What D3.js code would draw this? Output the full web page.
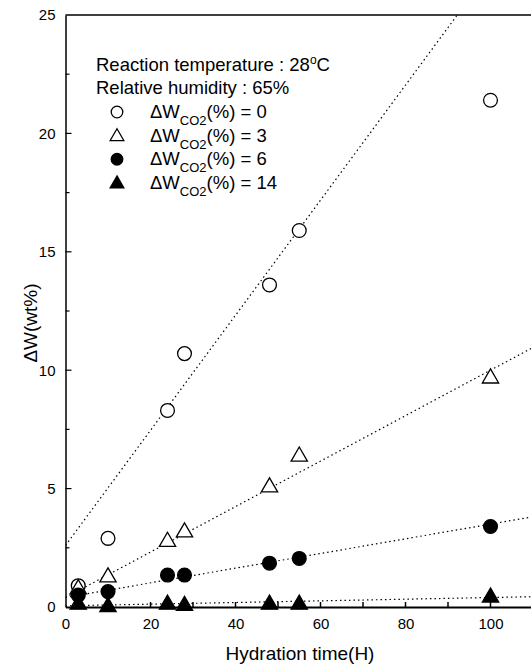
<!DOCTYPE html>
<html>
<head>
<meta charset="utf-8">
<script src="https://cdn.jsdelivr.net/npm/d3@7"></script>
<style>
  body { margin: 0; background: #fff; }
  svg { font-family: "Liberation Sans", Arial, sans-serif; }
</style>
</head>
<body>
<svg width="531" height="666"></svg>
<script>
// Hydration time (H) of each measurement
const hours = [3, 10, 24, 28, 48, 55, 100];

// Weight gain ΔW (wt%) per CO2 pre-absorption level
const co2Levels = ["0", "3", "6", "14"];
const gain0 = [0.9, 2.9, 8.3, 10.7, 13.6, 15.9, 21.4];
const gain3 = [0.8, 1.3, 2.8, 3.2, 5.1, 6.4, 9.7];
const gain6 = [0.5, 0.65, 1.35, 1.35, 1.85, 2.05, 3.4];
const gain14 = [0.15, 0.05, 0.15, 0.1, 0.15, 0.15, 0.45];

// fitted lines: intercept and slope
const fitIntercept = [2.6, 0.4, 0.4, 0.05];
const fitSlope = [0.243, 0.096, 0.031, 0.0035];

const xTicks = [0, 20, 40, 60, 80, 100];
const yTicks = [0, 5, 10, 15, 20, 25];

const series = [
  { level: co2Levels[0], values: gain0, shape: "circle", filled: false },
  { level: co2Levels[1], values: gain3, shape: "triangle", filled: false },
  { level: co2Levels[2], values: gain6, shape: "circle", filled: true },
  { level: co2Levels[3], values: gain14, shape: "triangle", filled: true }
];

const svg = d3.select("svg");

const plotLeft = 65.5, plotTop = 15, plotBottom = 607;
const x = d3.scaleLinear().domain([0, 120]).range([plotLeft, plotLeft + 120 * 4.25]);
const y = d3.scaleLinear().domain([0, 25]).range([plotBottom, plotTop]);

svg.append("defs").append("clipPath").attr("id", "plot")
  .append("rect")
    .attr("x", plotLeft).attr("y", plotTop)
    .attr("width", x(120) - plotLeft).attr("height", plotBottom - plotTop);

// fitted dotted lines
const lineG = svg.append("g").attr("clip-path", "url(#plot)");
series.forEach((s, i) => {
  lineG.append("line")
      .attr("x1", x(0)).attr("y1", y(fitIntercept[i]))
      .attr("x2", x(120)).attr("y2", y(fitIntercept[i] + fitSlope[i] * 120))
      .attr("stroke", "#000")
      .attr("stroke-width", 1.2)
      .attr("stroke-dasharray", "1.5,3");
});

// axes
const xAxis = d3.axisBottom(x).tickValues(xTicks).tickSize(0).tickPadding(11);
const gx = svg.append("g").attr("transform", `translate(0,${plotBottom})`).call(xAxis);
gx.select(".domain").attr("stroke-width", 2);
gx.selectAll("text").style("font-size", "15px").attr("fill", "#000");

// inward ticks on x
svg.append("g").selectAll("line")
  .data(d3.range(10, 111, 10))
  .enter().append("line")
    .attr("x1", d => x(d)).attr("x2", d => x(d))
    .attr("y1", plotBottom).attr("y2", plotBottom - 5)
    .attr("stroke", "#000").attr("stroke-width", 1.5);

const yAxis = d3.axisLeft(y).tickValues(yTicks).tickSize(0).tickPadding(10);
const gy = svg.append("g").attr("transform", `translate(${plotLeft},0)`).call(yAxis);
gy.select(".domain").attr("stroke-width", 1.5);
gy.selectAll("text").style("font-size", "15px").attr("fill", "#000");

// inward ticks on y (major and minor)
svg.append("g").selectAll("line")
  .data(d3.range(2.5, 25, 2.5))
  .enter().append("line")
    .attr("x1", plotLeft).attr("x2", d => plotLeft + (d % 5 === 0 ? 6 : 4))
    .attr("y1", d => y(d)).attr("y2", d => y(d))
    .attr("stroke", "#000").attr("stroke-width", 1.2);

// top frame
svg.append("line")
    .attr("x1", plotLeft).attr("x2", x(120))
    .attr("y1", plotTop).attr("y2", plotTop)
    .attr("stroke", "#000").attr("stroke-width", 1.5);

// markers
function drawMarker(g, s, cx, cy, scale) {
  const sym = s.shape === "circle"
    ? d3.symbol().type(d3.symbolCircle).size(150 * scale)
    : d3.symbol().type(d3.symbolTriangle).size(115 * scale);
  g.append("path")
    .attr("d", sym())
    .attr("transform", `translate(${cx},${cy + (s.shape === "triangle" ? 1 : 0)})`)
    .attr("fill", s.filled ? "#000" : "#fff")
    .attr("stroke", "#000")
    .attr("stroke-width", 1.3);
}

const markG = svg.append("g");
series.forEach(s => {
  s.values.forEach((v, j) => drawMarker(markG, s, x(hours[j]), y(v), 1));
});

// legend
const leg = svg.append("g").style("font-size", "18.5px");
const tempText = leg.append("text").attr("x", 96).attr("y", 71).text("Reaction temperature : 28");
tempText.append("tspan").attr("dy", -7).style("font-size", "12px").text("o");
tempText.append("tspan").attr("dy", 7).text("C");
leg.append("text").attr("x", 96).attr("y", 94).text("Relative humidity : 65%");

series.forEach((s, i) => {
  const ly = 118 + i * 23.6;
  drawMarker(leg, s, 117, ly - 6, 0.7);
  const t = leg.append("text").attr("x", 150).attr("y", ly);
  t.append("tspan").text("ΔW");
  t.append("tspan").attr("dy", 7).style("font-size", "13px").text("CO2");
  t.append("tspan").attr("dy", -7).text(`(%) = ${s.level}`);
});

// axis titles
svg.append("text")
    .attr("x", 300).attr("y", 660)
    .attr("text-anchor", "middle")
    .style("font-size", "19px")
    .text("Hydration time(H)");

svg.append("text")
    .attr("transform", "translate(37,323) rotate(-90)")
    .attr("text-anchor", "middle")
    .style("font-size", "19px")
    .text("ΔW(wt%)");
</script>
</body>
</html>
